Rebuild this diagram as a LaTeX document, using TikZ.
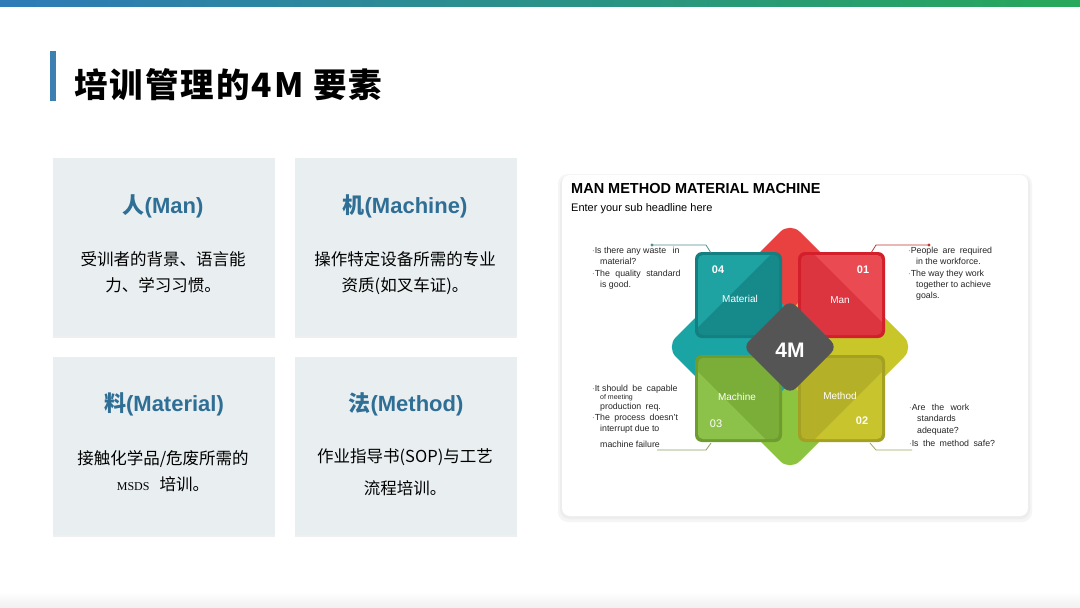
\documentclass[tikz,border=0pt]{standalone}
\usepackage{fontspec}
\setmainfont{Liberation Sans}
\newfontfamily\cjk{Noto Sans CJK SC}
\newfontfamily\cjkwide{Noto Sans CJK SC}[LetterSpace=6]
\newfontfamily\msdsfont{Liberation Serif}
\usetikzlibrary{shadows}

\definecolor{barblue}{HTML}{2E7BB8}
\definecolor{bargreen}{HTML}{27A85A}
\definecolor{titlebar}{HTML}{3C7FB1}
\definecolor{cardbg}{HTML}{E9EFF1}
\definecolor{cardhead}{HTML}{2F6E95}
\definecolor{lobered}{HTML}{E8413F}
\definecolor{lobeteal}{HTML}{1BA4A4}
\definecolor{lobeyellow}{HTML}{C9C62A}
\definecolor{lobegreen}{HTML}{8DC43F}
\definecolor{matdark}{HTML}{137F80}
\definecolor{matmain}{HTML}{168A8B}
\definecolor{matlight}{HTML}{1FA2A2}
\definecolor{mandark}{HTML}{D21F2B}
\definecolor{manmain}{HTML}{DC3540}
\definecolor{manlight}{HTML}{EA4A52}
\definecolor{macdark}{HTML}{6E9C2F}
\definecolor{macmain}{HTML}{7AAE39}
\definecolor{maclight}{HTML}{8CC24A}
\definecolor{metdark}{HTML}{A3A023}
\definecolor{metmain}{HTML}{B4B028}
\definecolor{metlight}{HTML}{C8C42E}
\definecolor{coregray}{HTML}{555555}
\definecolor{linemat}{HTML}{4F8F8F}
\definecolor{lineman}{HTML}{C0392B}
\definecolor{linemac}{HTML}{8AA060}
\definecolor{linemet}{HTML}{A0A65A}

\begin{document}
\begin{tikzpicture}[x=1pt,y=-1pt,
  card/.style={fill=cardbg, minimum width=222pt, minimum height=178pt,
    drop shadow={shadow xshift=0pt, shadow yshift=-2pt, opacity=0.12}},
  cardtitle/.style={text=cardhead, inner sep=0pt, font=\bfseries\fontsize{22}{22}\selectfont},
  bodytxt/.style={align=center, inner sep=0pt, font=\cjk\fontsize{16.5}{26}\selectfont},
  note/.style={anchor=north west, align=left, inner sep=0pt, text=black!85,
    font=\fontsize{8.8}{11.3}\selectfont},
  sqtxt/.style={text=white, inner sep=0pt, font=\fontsize{10}{10}\selectfont},
  sqnum/.style={text=white, inner sep=0pt, font=\bfseries\fontsize{11}{11}\selectfont},
  lobe/.style={rounded corners=14pt},
  sqedge/.style={rounded corners=7pt},
  sqface/.style={rounded corners=5pt},
]
\useasboundingbox (0,0) rectangle (1080,608);
\fill[white] (0,0) rectangle (1080,608);
% top bar and faint bottom band
\shade[left color=barblue, right color=bargreen] (0,0) rectangle (1080,6);
\shade[top color=white, bottom color=black!6] (0,592) rectangle (1080,608);

% title
\fill[titlebar] (50,51) rectangle (56,101);
\node[anchor=west, inner sep=0pt, font=\cjkwide\bfseries\fontsize{33.5}{34}\selectfont] (title) at (74,85) {培训管理的4M 要素};

% four cards
\node[card] (cman) at (163.5,247) {};
\node[card] (cmac) at (405.5,247) {};
\node[card] (cmat) at (163.5,445.5) {};
\node[card] (cmet) at (406,445.5) {};

\node[cardtitle] (tman) at (163,206) {{\cjk 人}(Man)};
\node[cardtitle] (tmac) at (405,206) {{\cjk 机}(Machine)};
\node[cardtitle] (tmat) at (164,404) {{\cjk 料}(Material)};
\node[cardtitle] (tmet) at (406,404) {{\cjk 法}(Method)};

\node[bodytxt] (bman) at (163,272) {受训者的背景、语言能\\力、学习习惯。};
\node[bodytxt] (bmac) at (405,273) {操作特定设备所需的专业\\资质(如叉车证)。};
\node[bodytxt] (bmat) at (163,471) {接触化学品/危废所需的\\{\msdsfont\fontsize{12}{12}\selectfont MSDS}\hspace{10pt}培训。};
\node[bodytxt] (bmet) at (405,472) {作业指导书(SOP)与工艺\\[6pt]流程培训。};

% right panel
\fill[black!4, rounded corners=10pt] (558,174) rectangle (1032,522);
\fill[black!7, rounded corners=9pt] (560,176) rectangle (1030,519);
\fill[white, rounded corners=8pt] (562,175) rectangle (1028,516);
\node[anchor=west, inner sep=0pt, font=\bfseries\fontsize{14.5}{15}\selectfont] (phead) at (571,189) {MAN METHOD MATERIAL MACHINE};
\node[anchor=west, inner sep=0pt, font=\fontsize{11}{12}\selectfont] (psub) at (571,209) {Enter your sub headline here};

% lobes behind the squares
\fill[lobered, lobe] (790,222) -- (870,302) -- (790,382) -- (710,302) -- cycle;
\fill[lobegreen, lobe] (790,311) -- (870,391) -- (790,471) -- (710,391) -- cycle;
\fill[lobeteal, lobe] (746,267) -- (826,347) -- (746,427) -- (666,347) -- cycle;
\fill[lobeyellow, lobe] (834,267) -- (914,347) -- (834,427) -- (754,347) -- cycle;

% Material square
\fill[matdark, sqedge] (695,252) rectangle (782,338);
\fill[matmain, sqface] (698,255) rectangle (779,335);
\begin{scope}
  \clip[sqface] (698,255) rectangle (779,335);
  \fill[matlight] (698,255) -- (770,255) -- (698,327) -- cycle;
\end{scope}
% Man square
\fill[mandark, sqedge] (798,252) rectangle (885,338);
\fill[manmain, sqface] (801,255) rectangle (882,335);
\begin{scope}
  \clip[sqface] (801,255) rectangle (882,335);
  \fill[manlight] (815,255) -- (882,255) -- (882,322) -- cycle;
\end{scope}
% Machine square
\fill[macdark, sqedge] (695,355) rectangle (782,442);
\fill[macmain, sqface] (698,358) rectangle (779,439);
\begin{scope}
  \clip[sqface] (698,358) rectangle (779,439);
  \fill[maclight] (698,372) -- (765,439) -- (698,439) -- cycle;
\end{scope}
% Method square
\fill[metdark, sqedge] (798,355) rectangle (885,442);
\fill[metmain, sqface] (801,358) rectangle (882,439);
\begin{scope}
  \clip[sqface] (801,358) rectangle (882,439);
  \fill[metlight] (882,372) -- (882,439) -- (815,439) -- cycle;
\end{scope}

% center diamond
\fill[coregray, rounded corners=8pt] (790,300) -- (837,347) -- (790,394) -- (743,347) -- cycle;
\node[text=white, font=\bfseries\fontsize{21}{21}\selectfont] (core) at (790,350) {4M};

\node[sqnum] (nmat) at (718,270) {04};
\node[sqtxt] (lmat) at (740,299) {Material};
\node[sqnum] (nman) at (863,270) {01};
\node[sqtxt] (lman) at (840,300) {Man};
\node[sqtxt] (lmac) at (737,397) {Machine};
\node[sqnum, font=\fontsize{11}{11}\selectfont] (nmac) at (716,424) {03};
\node[sqtxt] (lmet) at (840,396) {Method};
\node[sqnum] (nmet) at (862,421) {02};

% callouts
\coordinate (matA) at (652,245);
\coordinate (matB) at (706,245);
\coordinate (matC) at (711,253);
\draw[linemat, line width=0.8pt] (matA) -- (matB) -- (matC);
\fill[linemat] (matA) circle (1.6);
\node[note] (qmat) at (592,247) {$\cdot$Is there any waste\hspace{4pt} in\\\hspace*{8pt}material?\\$\cdot$The\hspace{3pt} quality\hspace{3pt} standard\\\hspace*{8pt}is good.};

\coordinate (manA) at (929,245);
\coordinate (manB) at (876,245);
\coordinate (manC) at (871,253);
\draw[lineman, line width=0.8pt] (manA) -- (manB) -- (manC);
\fill[lineman] (manA) circle (1.6);
\node[note] (qman) at (908,247) {$\cdot$People\hspace{2pt} are\hspace{2pt} required\\\hspace*{8pt}in the workforce.\\$\cdot$The way they work\\\hspace*{8pt}together to achieve\\\hspace*{8pt}goals.};

\coordinate (macA) at (657,450);
\coordinate (macB) at (706,450);
\coordinate (macC) at (711,443);
\draw[linemac, line width=0.8pt] (macA) -- (macB) -- (macC);
\node[note] (qmac) at (592,385) {$\cdot$It should\hspace{2pt} be\hspace{2pt} capable\\[-3pt]\hspace*{8pt}{\fontsize{7}{7}\selectfont of meeting}\\[-2pt]\hspace*{8pt}production\hspace{2pt} req.\\$\cdot$The\hspace{2pt} process\hspace{2pt} doesn't\\\hspace*{8pt}interrupt due to\\[4pt]\hspace*{8pt}machine failure};

\coordinate (metA) at (870,443);
\coordinate (metB) at (876,450);
\coordinate (metC) at (912,450);
\draw[linemet, line width=0.8pt] (metA) -- (metB) -- (metC);
\node[note] (qmet) at (909,404) {$\cdot$Are\hspace{4pt} the\hspace{4pt} work\\\hspace*{8pt}standards\\\hspace*{8pt}adequate?\\[2pt]$\cdot$Is\hspace{2pt} the\hspace{2pt} method\hspace{2pt} safe?};
\end{tikzpicture}
\end{document}
